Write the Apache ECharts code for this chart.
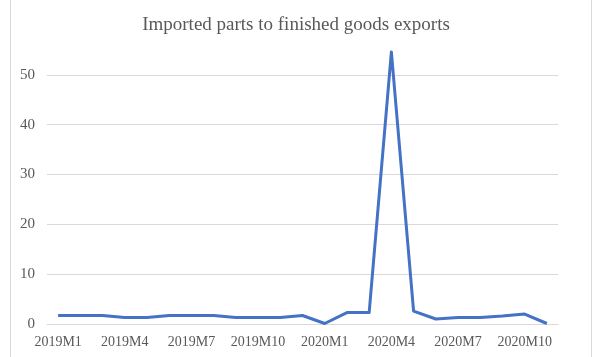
<!DOCTYPE html>
<html>
<head>
<meta charset="utf-8">
<script src="https://cdn.jsdelivr.net/npm/echarts@6/dist/echarts.min.js"></script>
<style>
  html, body { margin: 0; padding: 0; background: #fff; }
  #frame { position: absolute; left: 10px; top: -2px; width: 580px; height: 361px; border-left: 1px solid #d9d9d9; border-right: 1px solid #d9d9d9; }
  #chart { width: 592px; height: 357px; position: absolute; left: 0; top: 0; }
</style>
</head>
<body>
<div id="frame"></div>
<div id="chart"></div>
<script>
// Monthly ratio of imported parts to finished goods exports
const months = [
  '2019M1','2019M2','2019M3','2019M4','2019M5','2019M6','2019M7','2019M8',
  '2019M9','2019M10','2019M11','2019M12','2020M1','2020M2','2020M3','2020M4',
  '2020M5','2020M6','2020M7','2020M8','2020M9','2020M10','2020M11'
];
const ratio = [
  1.7, 1.7, 1.7, 1.3, 1.3, 1.7, 1.7, 1.7,
  1.3, 1.3, 1.3, 1.7, 0.1, 2.3, 2.3, 54.6,
  2.6, 1.0, 1.3, 1.3, 1.6, 2.0, 0.1
];
const yTicks = [0, 10, 20, 30, 40, 50, 60];
const shownLabels = ['2019M1','2019M4','2019M7','2019M10','2020M1','2020M4','2020M7','2020M10'];

const chart = echarts.init(document.getElementById('chart'), null, { renderer: 'canvas' });
const serif = '"Liberation Serif", "Times New Roman", serif';
const grey = '#595959';
// top split line (at the axis max) is left invisible
const gridColors = yTicks.map((t, i) => i === yTicks.length - 1 ? 'rgba(0,0,0,0)' : '#d9d9d9');

chart.setOption({
  animation: false,
  backgroundColor: 'transparent',
  title: {
    text: 'Imported parts to finished goods exports',
    left: 'center',
    top: 11,
    textStyle: { fontFamily: serif, fontSize: 19, fontWeight: 'normal', color: grey }
  },
  grid: { left: 47, right: 34, top: 25, bottom: 33 },
  xAxis: {
    type: 'category',
    data: months,
    boundaryGap: true,
    axisLine: { show: true, lineStyle: { color: '#d9d9d9', width: 1 } },
    axisTick: { show: false },
    axisLabel: {
      interval: 0,
      margin: 11,
      fontFamily: serif,
      fontSize: 14,
      color: grey,
      formatter: v => shownLabels.includes(v) ? v : ''
    }
  },
  yAxis: {
    type: 'value',
    min: yTicks[0],
    max: yTicks[yTicks.length - 1],
    interval: 10,
    axisLine: { show: false },
    axisTick: { show: false },
    splitLine: { show: true, lineStyle: { color: gridColors, width: 1 } },
    axisLabel: {
      margin: 12,
      fontFamily: serif,
      fontSize: 15,
      color: grey,
      showMaxLabel: false
    }
  },
  series: [{
    type: 'line',
    data: ratio,
    symbol: 'none',
    lineStyle: { color: '#4472C4', width: 3, join: 'round' },
    itemStyle: { color: '#4472C4' }
  }]
});
</script>
</body>
</html>
